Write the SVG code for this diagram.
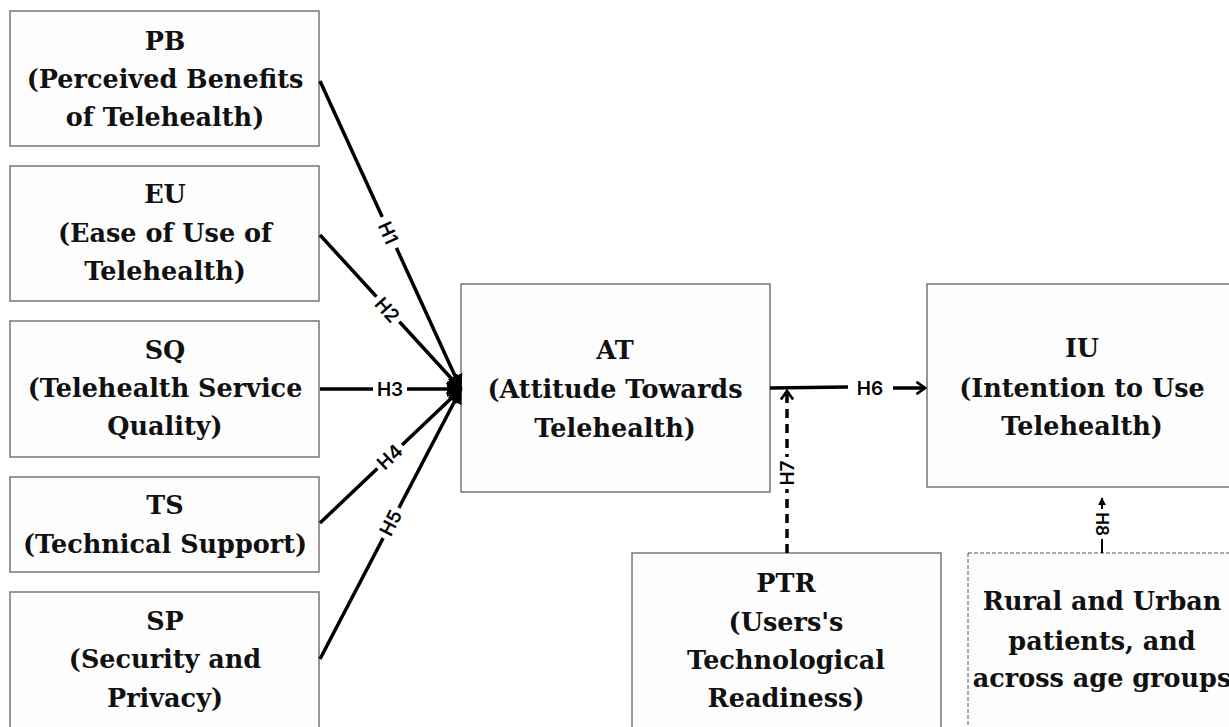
<svg xmlns="http://www.w3.org/2000/svg" width="1229" height="727" viewBox="0 0 1229 727">
<defs>
<style>
.box{fill:#fdfdfd;stroke:#777;stroke-width:1.5}
.dbox{fill:#fdfdfd;stroke:#555;stroke-width:1;stroke-dasharray:4,2}
.t{font-family:"DejaVu Serif","Liberation Serif",serif;font-weight:bold;font-size:25.5px;fill:#111;text-anchor:middle}
.ln{stroke:#000;stroke-width:3.5;fill:none}
.lab{font-family:Inter,"Liberation Sans",sans-serif;font-weight:600;font-size:19px;fill:#000;text-anchor:middle;dominant-baseline:central}
.bg{fill:#fff}
</style>
<marker id="tri" viewBox="0 0 10 10" refX="9" refY="5" markerWidth="4.5" markerHeight="4.5" orient="auto" markerUnits="strokeWidth">
<path d="M0,0 L10,5 L0,10 z" fill="#000"/>
</marker>
<marker id="tri2" viewBox="0 0 10 10" refX="9" refY="5" markerWidth="4" markerHeight="4" orient="auto" markerUnits="strokeWidth">
<path d="M0,0 L10,5 L0,10 z" fill="#000"/>
</marker>
<marker id="chev" viewBox="0 0 12 12" refX="10" refY="6" markerWidth="4.2" markerHeight="4.2" orient="auto" markerUnits="strokeWidth">
<path d="M3,1 L10,6 L3,11" fill="none" stroke="#000" stroke-width="2.2"/>
</marker>
</defs>
<rect width="1229" height="727" fill="#fff"/>

<g id="PB"><rect class="box" x="10" y="11" width="309" height="135"/>
<text class="t" x="165" y="50">PB</text><text class="t" x="165" y="88">(Perceived Benefits</text><text class="t" x="165" y="126">of Telehealth)</text></g>
<g id="EU"><rect class="box" x="10" y="166" width="309" height="135"/>
<text class="t" x="165" y="203">EU</text><text class="t" x="165" y="242">(Ease of Use of</text><text class="t" x="165" y="280">Telehealth)</text></g>
<g id="SQ"><rect class="box" x="10" y="321" width="309" height="136"/>
<text class="t" x="165" y="359">SQ</text><text class="t" x="165" y="397">(Telehealth Service</text><text class="t" x="165" y="435">Quality)</text></g>
<g id="TS"><rect class="box" x="10" y="477" width="309" height="95"/>
<text class="t" x="165" y="514">TS</text><text class="t" x="165" y="553">(Technical Support)</text></g>
<g id="SP"><rect class="box" x="10" y="592" width="309" height="145"/>
<text class="t" x="165" y="630">SP</text><text class="t" x="165" y="668">(Security and</text><text class="t" x="165" y="707">Privacy)</text></g>
<g id="AT"><rect class="box" x="461" y="284" width="309" height="208"/>
<text class="t" x="615" y="359">AT</text><text class="t" x="615" y="398">(Attitude Towards</text><text class="t" x="615" y="437">Telehealth)</text></g>
<g id="IU"><rect class="box" x="927" y="284" width="320" height="203"/>
<text class="t" x="1082" y="357">IU</text><text class="t" x="1082" y="397">(Intention to Use</text><text class="t" x="1082" y="435">Telehealth)</text></g>
<g id="PTR"><rect class="box" x="632" y="553" width="309" height="190"/>
<text class="t" x="786" y="592">PTR</text><text class="t" x="786" y="631">(Users's</text><text class="t" x="786" y="669">Technological</text><text class="t" x="786" y="707">Readiness)</text></g>
<g id="RU"><rect class="dbox" x="968" y="553" width="280" height="190"/>
<text class="t" x="1102" y="610">Rural and Urban</text><text class="t" x="1102" y="650">patients, and</text><text class="t" x="1102" y="687">across age groups</text></g>

<g id="connectors">
<line class="ln" x1="320" y1="81" x2="461" y2="389" marker-end="url(#tri)"/>
<line class="ln" x1="320" y1="235" x2="461" y2="389" marker-end="url(#tri)"/>
<line class="ln" x1="320" y1="389" x2="461" y2="389" marker-end="url(#tri)"/>
<line class="ln" x1="320" y1="523" x2="461" y2="389" marker-end="url(#tri)"/>
<line class="ln" x1="320" y1="659" x2="461" y2="389" marker-end="url(#tri)"/>
<g transform="translate(388,233) rotate(65.7)"><rect class="bg" x="-17" y="-11" width="34" height="22"/><text class="lab" x="0" y="0">H1</text></g>
<g transform="translate(387,310) rotate(48)"><rect class="bg" x="-17" y="-11" width="34" height="22"/><text class="lab" x="0" y="0">H2</text></g>
<g transform="translate(390,389)"><rect class="bg" x="-17" y="-11" width="34" height="22"/><text class="lab" x="0" y="0">H3</text></g>
<g transform="translate(390,457) rotate(-44)"><rect class="bg" x="-17" y="-11" width="34" height="22"/><text class="lab" x="0" y="0">H4</text></g>
<g transform="translate(391,523) rotate(-62.8)"><rect class="bg" x="-17" y="-11" width="34" height="22"/><text class="lab" x="0" y="0">H5</text></g>

<line class="ln" x1="770" y1="388" x2="848" y2="387"/>
<text class="lab" x="870" y="388">H6</text>
<line class="ln" x1="893" y1="388" x2="925" y2="388" marker-end="url(#chev)"/>

<line class="ln" x1="787" y1="553" x2="787" y2="391" stroke-dasharray="9,6" marker-end="url(#chev)"/>
<g transform="translate(787,473) rotate(-90)"><rect class="bg" x="-16" y="-11" width="32" height="22"/><text class="lab" x="0" y="0">H7</text></g>

<line x1="1102" y1="553" x2="1102" y2="498" stroke="#000" stroke-width="2" marker-end="url(#tri2)"/>
<g transform="translate(1102,524) rotate(90)"><rect class="bg" x="-15" y="-10" width="30" height="20"/><text class="lab" x="0" y="0" style="font-size:17px">H8</text></g>
</g>
</svg>
